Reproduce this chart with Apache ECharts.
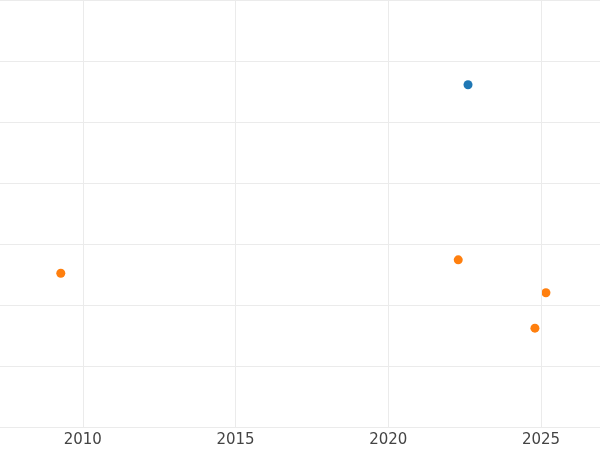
<!DOCTYPE html>
<html><head><meta charset="utf-8">
<script src="https://cdn.jsdelivr.net/npm/echarts@6/dist/echarts.min.js"></script>
<style>html,body{margin:0;padding:0;background:#fff}#c{width:600px;height:450px}</style>
</head><body><div id="c"></div>
<script>
const xTicks = [2010, 2015, 2020, 2025];
const blueX = [2022.61];
const blueY = [5.61];
const orangeX = [2009.28, 2022.29, 2025.16, 2024.80];
const orangeY = [2.52, 2.74, 2.20, 1.62];
const zip = (xs, ys) => xs.map((x, i) => [x, ys[i]]);
const chart = echarts.init(document.getElementById('c'));
chart.setOption({
  animation: false,
  grid: {left: 0, right: 0, top: 0, bottom: 23, containLabel: false},
  xAxis: {type: 'value', min: 2007.29, max: 2026.93,
    axisLine: {show: false},
    axisTick: {show: false, customValues: xTicks},
    axisLabel: {color: '#444', fontSize: 15, fontFamily: 'DejaVu Sans', margin: 6,
      customValues: xTicks, formatter: v => String(v)},
    splitLine: {show: false}},
  yAxis: {type: 'value', min: 0, max: 7, interval: 1,
    axisLine: {show: false}, axisTick: {show: false}, axisLabel: {show: false},
    splitLine: {lineStyle: {color: '#ebebeb'}}},
  series: [
    {type: 'line', data: [], markLine: {silent: true, symbol: 'none', label: {show: false},
      lineStyle: {color: '#ebebeb', type: 'solid', width: 1},
      data: xTicks.map(v => ({xAxis: v}))}},
    {type: 'scatter', data: zip(blueX, blueY), symbolSize: 9, itemStyle: {color: '#1f77b4', opacity: 1}},
    {type: 'scatter', data: zip(orangeX, orangeY), symbolSize: 9, itemStyle: {color: '#ff7f0e', opacity: 1}}
  ]
});
</script></body></html>
